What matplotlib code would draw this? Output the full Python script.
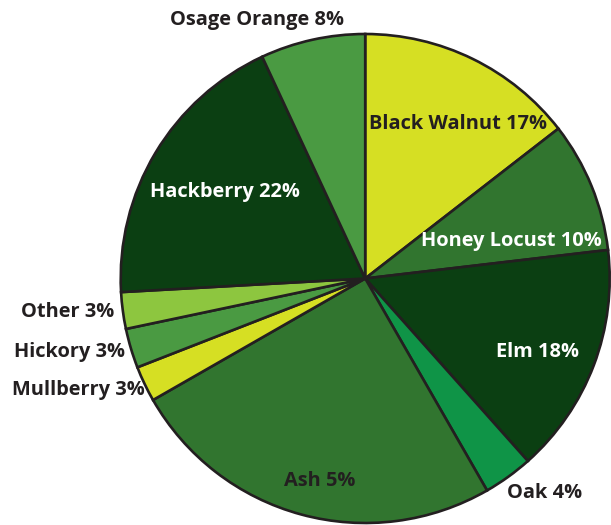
import matplotlib
matplotlib.use("Agg")
import matplotlib.pyplot as plt

# slice shares (clockwise from 12 o'clock)
species = ["Black Walnut", "Honey Locust", "Elm", "Oak", "Ash",
           "Mullberry", "Hickory", "Other", "Hackberry", "Osage Orange"]
shares = [14.5, 8.64, 15.28, 3.28, 25.03, 2.36, 2.61, 2.42, 18.97, 6.92]
label_pct = [17, 10, 18, 4, 5, 3, 3, 3, 22, 8]

colors = ["#d6df23", "#31752f", "#0b3f12", "#0f9447", "#31752f",
          "#d6df23", "#4a9a42", "#8dc63f", "#0b3f12", "#4a9a42"]
text_colors = ["#231f20", "white", "white", "#231f20", "#231f20",
               "#231f20", "#231f20", "#231f20", "white", "#231f20"]
# label centres in pixels (x from left, y from top)
label_xy = [(458, 124), (511, 241), (537, 352), (545, 493), (320, 481),
            (78, 390), (69, 352), (68, 312), (225, 192), (257, 20)]

W, H = 611, 525
fig = plt.figure(figsize=(W / 100, H / 100), dpi=100)
ax = fig.add_axes([0, 0, 1, 1])

ax.pie(shares, colors=colors, startangle=90, counterclock=False,
       center=(365.2, H - 278.5), radius=244.5, frame=True,
       wedgeprops=dict(edgecolor="#231f20", linewidth=1.9))

for name, pct, (x, y), tc in zip(species, label_pct, label_xy, text_colors):
    ax.text(x, H - y, f"{name} {pct}%", ha="center", va="center",
            fontsize=14.4, fontweight="bold", family="Open Sans", color=tc)

ax.set_xlim(0, W)
ax.set_ylim(0, H)
ax.set_aspect("equal")
ax.axis("off")

fig.savefig("out.png", dpi=100)
